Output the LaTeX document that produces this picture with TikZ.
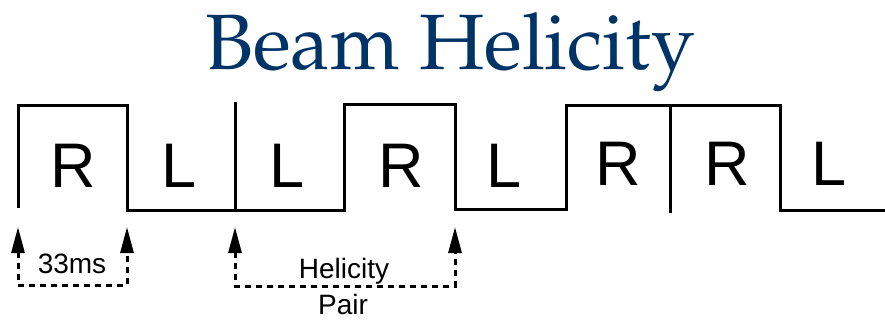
\documentclass[tikz,border=0pt]{standalone}
\usepackage{fontspec}
\setsansfont{Liberation Sans}
\usetikzlibrary{arrows.meta}
\definecolor{titleblue}{RGB}{0,51,102}
\begin{document}
\begin{tikzpicture}[x=1pt,y=-1pt,
  wave/.style={line width=3pt,line join=miter,line cap=butt},
  hel/.style={font=\sffamily\fontsize{63}{63}\selectfont,anchor=base,inner sep=0pt},
  lbl/.style={font=\sffamily\fontsize{28}{28}\selectfont,anchor=base,inner sep=0pt},
  span/.style={line width=3pt,dash pattern=on 6pt off 5pt,
    {Triangle[length=26pt,width=13pt]}-{Triangle[length=26pt,width=13pt]}},
  titlestyle/.style={font=\fontencoding{T1}\fontfamily{ppl}\fontsize{78.5}{80}\selectfont,
    text=titleblue,anchor=base,inner sep=0pt}]
\useasboundingbox (0,0) rectangle (885,320);
\node[titlestyle] (title) at (450,70) {Beam Helicity};
% waveform
\coordinate (w0) at (18,208);
\coordinate (w1) at (18,106);
\coordinate (w2) at (127,106);
\coordinate (w3) at (127,211);
\coordinate (w4) at (344,211);
\coordinate (w5) at (344,105);
\coordinate (w6) at (455,105);
\coordinate (w7) at (455,210);
\coordinate (w8) at (566,210);
\coordinate (w9) at (566,106);
\coordinate (w10) at (780,106);
\coordinate (w11) at (780,211);
\coordinate (w12) at (885,211);
\draw[wave] (w0) -- (w1) -- (w2) -- (w3) -- (w4) -- (w5) -- (w6) -- (w7) -- (w8) -- (w9) -- (w10) -- (w11) -- (w12);
\coordinate (s1a) at (235,102);
\coordinate (s1b) at (235,211);
\coordinate (s2a) at (670,104);
\coordinate (s2b) at (670,213);
\draw[wave] (s1a) -- (s1b);
\draw[wave] (s2a) -- (s2b);
% helicity labels
\node[hel] (h1) at (73,188) {R};
\node[hel] (h2) at (179,188) {L};
\node[hel] (h3) at (287,188) {L};
\node[hel] (h4) at (401,188) {R};
\node[hel] (h5) at (504,188) {L};
\node[hel] (h6) at (618,186) {R};
\node[hel] (h7) at (727,186) {R};
\node[hel] (h8) at (829,186) {L};
% spans
\coordinate (a1) at (18,227);
\coordinate (a2) at (127,227);
\coordinate (a3) at (235,227);
\coordinate (a4) at (455,227);
\coordinate (b1) at (18,285);
\coordinate (b2) at (127,285);
\coordinate (b3) at (235,286);
\coordinate (b4) at (455,286);
\draw[span] (a1) -- (b1) -- (b2) -- (a2);
\draw[span] (a3) -- (b3) -- (b4) -- (a4);
\node[lbl] (ms) at (72,273) {33ms};
\node[lbl] (hp1) at (344,278) {Helicity};
\node[lbl,text depth=0pt] (hp2) at (343,314) {Pair};
\end{tikzpicture}
\end{document}
